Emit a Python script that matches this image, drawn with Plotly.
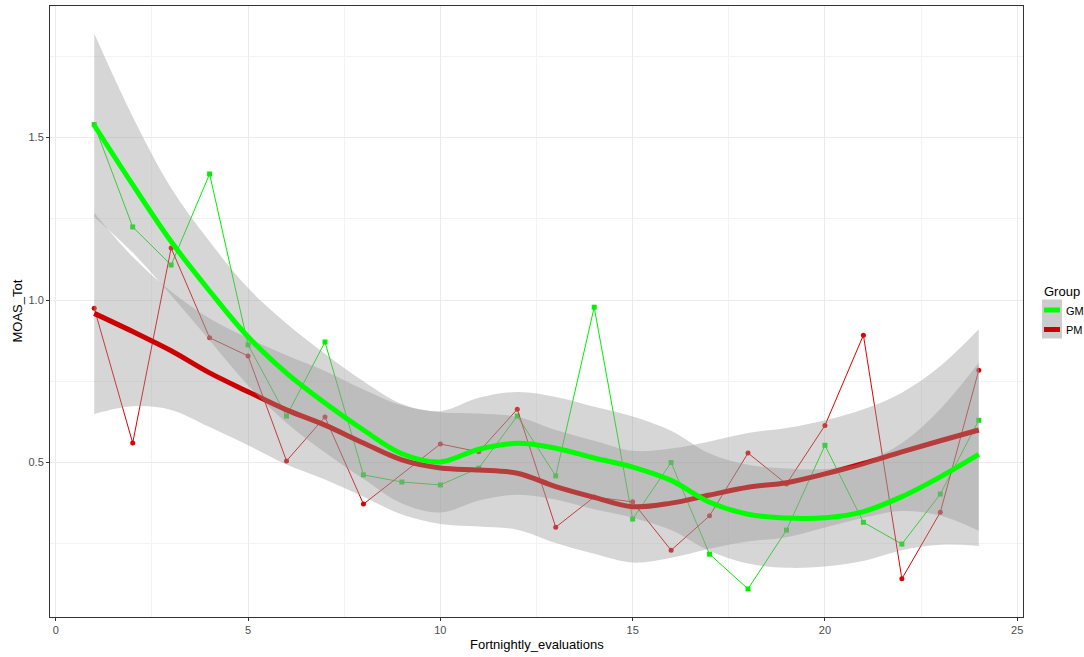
import plotly.graph_objects as go

# ---------------- data ----------------
x_eval = list(range(1, 25))

gm_vals = [1.54, 1.225, 1.108, 1.388, 0.862, 0.643, 0.871, 0.462, 0.44, 0.431, 0.483, 0.643,
           0.459, 0.978, 0.326, 0.50, 0.218, 0.111, 0.292, 0.553, 0.316, 0.249, 0.403, 0.63]
pm_vals = [0.975, 0.56, 1.16, 0.884, 0.828, 0.505, 0.64, 0.372, None, 0.557, 0.533, 0.664,
           0.301, 0.394, 0.379, 0.23, 0.336, 0.529, 0.434, 0.614, 0.892, 0.142, 0.347, 0.784]

# loess smooths and confidence bands
gm_fit = [1.538, 1.355, 1.180, 1.028, 0.887, 0.775, 0.683, 0.600, 0.527, 0.502, 0.541, 0.559,
          0.544, 0.514, 0.486, 0.445, 0.378, 0.341, 0.329, 0.330, 0.349, 0.395, 0.456, 0.525]
gm_lo = [1.256, 1.146, 1.015, 0.876, 0.737, 0.622, 0.531, 0.450, 0.374, 0.346, 0.383, 0.401,
         0.386, 0.356, 0.330, 0.292, 0.228, 0.189, 0.176, 0.180, 0.197, 0.230, 0.247, 0.243]
gm_hi = [1.820, 1.564, 1.345, 1.180, 1.037, 0.928, 0.835, 0.750, 0.680, 0.658, 0.699, 0.717,
         0.702, 0.672, 0.642, 0.598, 0.528, 0.493, 0.482, 0.480, 0.501, 0.560, 0.665, 0.807]

pm_fit = [0.959, 0.903, 0.844, 0.776, 0.718, 0.662, 0.615, 0.560, 0.508, 0.483, 0.477, 0.467,
          0.426, 0.393, 0.364, 0.375, 0.400, 0.424, 0.438, 0.465, 0.497, 0.533, 0.567, 0.600]
pm_lo = [0.649, 0.673, 0.662, 0.609, 0.553, 0.494, 0.448, 0.395, 0.340, 0.311, 0.303, 0.293,
         0.252, 0.219, 0.192, 0.207, 0.235, 0.257, 0.270, 0.300, 0.330, 0.351, 0.337, 0.290]
pm_hi = [1.269, 1.133, 1.026, 0.943, 0.883, 0.830, 0.782, 0.725, 0.676, 0.655, 0.651, 0.641,
         0.600, 0.567, 0.536, 0.543, 0.565, 0.591, 0.606, 0.630, 0.664, 0.715, 0.797, 0.910]

groups = ["GM", "PM"]
x_ticks = [0, 5, 10, 15, 20, 25]
y_ticks = [0.5, 1.0, 1.5]

# ---------------- styling ----------------
GM_COL = "#00EE00"
GM_FIT = "#00FF00"
PM_COL = "#DD0000"
PM_FIT = "#CC0000"
RIB = "rgba(153,153,153,0.4)"
FONT = "Liberation Sans, Arial, sans-serif"

fig = go.Figure()

# raw data
fig.add_trace(go.Scatter(x=x_eval, y=gm_vals, mode="lines+markers",
                         line=dict(color=GM_COL, width=1),
                         marker=dict(symbol="square", size=5, color=GM_COL),
                         showlegend=False, hoverinfo="skip"))
fig.add_trace(go.Scatter(x=x_eval, y=pm_vals, mode="lines+markers", connectgaps=True,
                         line=dict(color=PM_COL, width=1),
                         marker=dict(symbol="circle", size=5, color=PM_COL),
                         showlegend=False, hoverinfo="skip"))

# PM smooth
fig.add_trace(go.Scatter(x=x_eval, y=pm_lo, mode="lines", line=dict(width=0, shape="spline"),
                         showlegend=False, hoverinfo="skip"))
fig.add_trace(go.Scatter(x=x_eval, y=pm_hi, mode="lines", line=dict(width=0, shape="spline"),
                         fill="tonexty", fillcolor=RIB, showlegend=False, hoverinfo="skip"))
fig.add_trace(go.Scatter(x=x_eval, y=pm_fit, mode="lines",
                         line=dict(color=PM_FIT, width=5, shape="spline"),
                         showlegend=False, hoverinfo="skip"))
# GM smooth
fig.add_trace(go.Scatter(x=x_eval, y=gm_lo, mode="lines", line=dict(width=0, shape="spline"),
                         showlegend=False, hoverinfo="skip"))
fig.add_trace(go.Scatter(x=x_eval, y=gm_hi, mode="lines", line=dict(width=0, shape="spline"),
                         fill="tonexty", fillcolor=RIB, showlegend=False, hoverinfo="skip"))
fig.add_trace(go.Scatter(x=x_eval, y=gm_fit, mode="lines",
                         line=dict(color=GM_FIT, width=5, shape="spline"),
                         showlegend=False, hoverinfo="skip"))

axis_common = dict(
    showline=True, mirror=True, linecolor="#333333", linewidth=1,
    ticks="outside", ticklen=3, tickcolor="#333333",
    tickfont=dict(family=FONT, size=11, color="#4D4D4D"),
    showgrid=True, gridcolor="#EBEBEB", gridwidth=1, zeroline=False,
)

fig.update_xaxes(range=[-0.15, 25.15], tickvals=x_ticks, ticktext=[str(v) for v in x_ticks],
                 minor=dict(tickvals=[2.5, 7.5, 12.5, 17.5, 22.5], showgrid=True,
                            gridcolor="#F3F3F3", gridwidth=1, ticks=""),
                 **axis_common)
fig.update_yaxes(range=[0.0246, 1.905], tickvals=y_ticks, ticktext=["0.5", "1.0", "1.5"],
                 minor=dict(tickvals=[0.25, 0.75, 1.25, 1.75], showgrid=True,
                            gridcolor="#F3F3F3", gridwidth=1, ticks=""),
                 **axis_common)

# panel geometry (px) for custom legend / titles
L, R, T, B = 50, 61, 6, 40
W, H = 1084, 657
pw, ph = W - L - R, H - T - B


def px2x(px):
    return (px - L) / pw


def px2y(py):
    return (H - B - py) / ph


shapes = [
    dict(type="rect", xref="paper", yref="paper",
         x0=px2x(1042), x1=px2x(1062), y0=px2y(338.5), y1=px2y(299.5),
         fillcolor="#CCCCCC", line=dict(width=0), layer="above"),
    dict(type="line", xref="paper", yref="paper",
         x0=px2x(1044), x1=px2x(1060), y0=px2y(310), y1=px2y(310),
         line=dict(color=GM_FIT, width=5), layer="above"),
    dict(type="line", xref="paper", yref="paper",
         x0=px2x(1044), x1=px2x(1060), y0=px2y(329.5), y1=px2y(329.5),
         line=dict(color=PM_FIT, width=5), layer="above"),
]

annotations = [
    dict(text="Fortnightly_evaluations", xref="paper", yref="paper", x=0.5, y=px2y(644),
         xanchor="center", yanchor="middle", showarrow=False,
         font=dict(family=FONT, size=13, color="#000000")),
    dict(text="MOAS_Tot", xref="paper", yref="paper", x=px2x(17), y=0.5, textangle=-90,
         xanchor="center", yanchor="middle", showarrow=False,
         font=dict(family=FONT, size=13, color="#000000")),
    dict(text="Group", xref="paper", yref="paper", x=px2x(1042), y=px2y(291),
         xanchor="left", yanchor="middle", showarrow=False,
         font=dict(family=FONT, size=13, color="#000000")),
    dict(text=groups[0], xref="paper", yref="paper", x=px2x(1064), y=px2y(311),
         xanchor="left", yanchor="middle", showarrow=False,
         font=dict(family=FONT, size=11, color="#000000")),
    dict(text=groups[1], xref="paper", yref="paper", x=px2x(1064), y=px2y(330),
         xanchor="left", yanchor="middle", showarrow=False,
         font=dict(family=FONT, size=11, color="#000000")),
]

fig.update_layout(
    width=W, height=H,
    margin=dict(l=L, r=R, t=T, b=B, autoexpand=False),
    plot_bgcolor="white", paper_bgcolor="white",
    showlegend=False,
    shapes=shapes, annotations=annotations,
    font=dict(family=FONT),
)

fig.write_html(
    "out.html",
    config={"displayModeBar": False},
    post_script="document.body.style.margin='0';document.body.style.overflow='hidden';",
)
